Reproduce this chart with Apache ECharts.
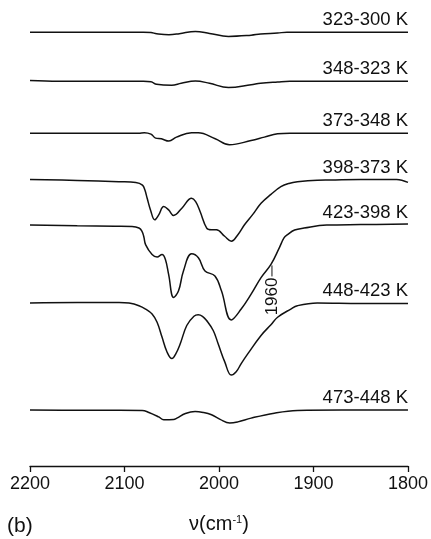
<!DOCTYPE html>
<html>
<head>
<meta charset="utf-8">
<script src="https://cdn.jsdelivr.net/npm/echarts@6/dist/echarts.min.js"></script>
<style>
html,body{margin:0;padding:0;background:#fff;}
#chart{width:431px;height:539px;}
</style>
</head>
<body>
<div id="chart"></div>
<script>
// Wavenumber ticks (cm^-1)
const xTicks = [2200, 2100, 2000, 1900, 1800];

// Temperature-difference labels
const traceNames = ['323-300 K', '348-323 K', '373-348 K', '398-373 K', '423-398 K', '448-423 K', '473-448 K'];

// Vertical offsets of each difference spectrum (arbitrary units)
const traceOffsets = [437.5, 388, 335.7, 289, 243, 164.5, 56.5];

// Difference spectra: [wavenumber, intensity relative to own baseline]
const trace_323_300 = [[2200,0],[2140,0],[2100,0],[2080,0],[2072,-0.3],[2066,-1.5],[2053,-2.5],[2042,-1.5],[2025,0.8],[2010,-1.2],[1990,-4.2],[1966,-3],[1956,-1.8],[1938,-0.8],[1928,0],[1880,0],[1800,0]];
const trace_348_323 = [[2200,0.8],[2170,0],[2120,0],[2080,0],[2072,-0.5],[2066,-3],[2050,-4],[2040,-2],[2025,0.3],[2010,-2],[1990,-6.3],[1966,-3.5],[1956,-2],[1938,-0.7],[1925,0],[1880,0],[1800,0]];
const trace_373_348 = [[2200,0],[2140,0],[2100,0],[2085,0],[2079,0.5],[2072,-1],[2067,-5],[2061,-5.7],[2053,-8],[2045,-4],[2029,0.3],[2022,0.3],[2004,-5.7],[1989,-11.7],[1966,-7.4],[1952,-4],[1938,-0.7],[1925,0],[1880,0],[1800,0]];
const trace_398_373 = [[2200,0],[2150,-1],[2106,-2.3],[2088,-3],[2081,-5.7],[2078.4,-10.7],[2076,-19],[2072.5,-30.7],[2068,-40.7],[2063.8,-35.7],[2058.5,-27.3],[2053.3,-30.7],[2048,-36.3],[2039.3,-29],[2029,-19],[2024.7,-22.3],[2020,-32.3],[2013,-49],[2008,-50.7],[2002.7,-50.7],[1994,-57.3],[1987,-62.3],[1980,-55.7],[1973,-45.7],[1964,-35],[1955.5,-24],[1945,-15],[1934.5,-7.3],[1926,-4],[1917,-2.3],[1896,-0.7],[1882,-0.5],[1850,0],[1812,0],[1800,-3]];
const trace_423_398 = [[2200,0],[2150,-0.7],[2110,-1.2],[2092,-1.5],[2084.7,-3],[2081.6,-6],[2079.5,-12],[2077.7,-19.7],[2070.8,-29.7],[2065.5,-32.3],[2060.3,-29.7],[2056.7,-34.7],[2053.3,-49.7],[2048,-73],[2042.8,-66.3],[2037.6,-46.3],[2029,-29],[2021.8,-33],[2014.8,-46.3],[2004.3,-51.3],[1997.4,-66.3],[1987,-95.7],[1976.5,-84.7],[1966,-69.7],[1955.5,-53],[1945,-39.7],[1936.2,-23],[1931.2,-13],[1927.5,-9.7],[1920,-5],[1910,-3],[1886,0],[1850,0.5],[1800,1]];
const trace_448_423 = [[2200,0],[2150,0.5],[2105.7,0.5],[2095.2,-0.2],[2084.7,-2.8],[2077.7,-6.2],[2070.8,-11.2],[2065.5,-19.5],[2060.3,-34.5],[2055,-49.5],[2049.8,-56.2],[2045.6,-51.2],[2041,-41.2],[2034.1,-22.8],[2026.5,-13.5],[2022,-12],[2017.5,-13.5],[2013.1,-17.8],[2006.1,-27.8],[2000.9,-41.2],[1993.9,-59.5],[1987,-72.8],[1981.8,-69.5],[1976.5,-61.2],[1969.4,-51.2],[1955.5,-32.8],[1945,-22],[1938,-14.5],[1924,-6.2],[1917,-2.8],[1896,0],[1850,-0.5],[1800,-0.5]];
const trace_473_448 = [[2200,0],[2150,-0.3],[2105,-0.3],[2081.3,-0.5],[2074.2,-2.5],[2063.8,-7],[2058.5,-9.8],[2048,-9.5],[2044.6,-8.2],[2035.5,-3.5],[2025.3,-1.5],[2016.6,-2.5],[2007.9,-4.8],[1998.8,-9.5],[1988.6,-13.2],[1980,-12],[1966,-8.2],[1941.5,-3.2],[1917,-0.5],[1870,0],[1800,0]];

// Annotated band
const markedBandLabel = '1960';
const markedBandPosition = 1945;

const traces = [trace_323_300, trace_348_323, trace_373_348, trace_398_373, trace_423_398, trace_448_423, trace_473_448];

const FONT = '"Liberation Sans", Arial, Helvetica, sans-serif';
const INK = '#111111';

const chart = echarts.init(document.getElementById('chart'), null, {renderer: 'canvas'});

const series = traces.map((t, i) => ({
  name: traceNames[i],
  type: 'line',
  data: t.map(p => [p[0], p[1] + traceOffsets[i]]),
  showSymbol: false,
  symbol: 'none',
  smooth: 0.4,
  lineStyle: {color: INK, width: 1.5},
  silent: true,
  animation: false
}));

chart.setOption({
  backgroundColor: '#ffffff',
  animation: false,
  grid: {left: 30, right: 19.5, top: 0, bottom: 69, containLabel: false},
  xAxis: {
    type: 'value',
    min: 1800, max: 2200, interval: 100,
    inverse: true,
    axisLine: {show: true, lineStyle: {color: INK, width: 1.3}},
    axisTick: {show: true, inside: false, length: 6, lineStyle: {color: INK, width: 1.3}},
    axisLabel: {
      show: true, margin: 9, fontSize: 18, color: INK, fontFamily: FONT,
      formatter: v => xTicks.includes(v) ? String(v) : ''
    },
    splitLine: {show: false},
    name: 'ν(cm{sup|-1})',
    nameLocation: 'middle',
    nameGap: 48,
    nameTextStyle: {
      fontSize: 20, color: INK, fontFamily: FONT,
      rich: {sup: {fontSize: 11, verticalAlign: 'top', padding: [0, 0, 9, 0], color: INK, fontFamily: FONT}}
    }
  },
  yAxis: {
    type: 'value', min: 0, max: 470, show: false
  },
  series: series
});

function buildGraphics() {
  const els = [];
  traceNames.forEach((n, i) => {
    const p = chart.convertToPixel({xAxisIndex: 0, yAxisIndex: 0}, [1800, traceOffsets[i]]);
    els.push({
      type: 'text',
      x: p[0], y: p[1] - 12,
      style: {text: n, fontSize: 18.5, fontFamily: FONT, fill: INK, align: 'right', verticalAlign: 'middle'},
      silent: true
    });
  });
  // annotation on 423-398 K trace
  const t5 = trace_423_398.find(p => p[0] === markedBandPosition);
  const top = chart.convertToPixel({xAxisIndex: 0, yAxisIndex: 0}, [markedBandPosition, t5[1] + traceOffsets[4]]);
  els.push({
    type: 'line',
    shape: {x1: top[0] + 1, y1: top[1] + 1, x2: top[0] + 1, y2: top[1] + 12},
    style: {stroke: INK, lineWidth: 1},
    silent: true
  });
  els.push({
    type: 'text',
    x: top[0] + 1.5, y: top[1] + 32,
    rotation: Math.PI / 2,
    style: {text: markedBandLabel, fontSize: 17, fontFamily: FONT, fill: INK, align: 'center', verticalAlign: 'middle'},
    silent: true
  });
  els.push({
    type: 'text',
    left: 7, top: 516,
    style: {text: '(b)', fontSize: 21, fontFamily: FONT, fill: INK},
    silent: true
  });
  chart.setOption({graphic: els});
}
buildGraphics();
</script>
</body>
</html>
